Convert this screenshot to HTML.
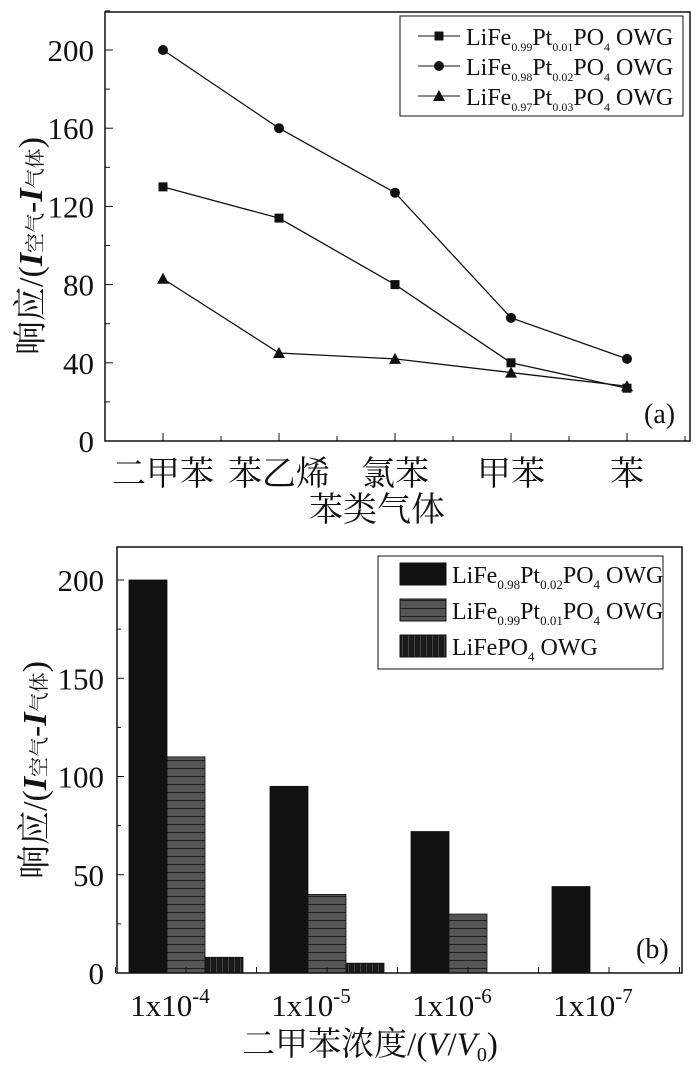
<!DOCTYPE html>
<html><head><meta charset="utf-8"><style>
body{margin:0;background:#fff}
svg{display:block}
text{font-family:"Liberation Serif","Noto Serif CJK SC",serif;fill:#111}
</style></head><body>
<svg id="s" width="700" height="1065" xmlns="http://www.w3.org/2000/svg"></svg>
<script>
const catsA=["二甲苯","苯乙烯","氯苯","甲苯","苯"];
const sA1=[130,114,80,40,27];
const sA2=[200,160,127,63,42];
const sA3=[83,45,42,35,28];
const ticksA=[0,40,80,120,160,200];
const catsB=["1x10","1x10","1x10","1x10"];
const expB=["-4","-5","-6","-7"];
const sB1=[200,95,72,44];
const sB2=[110,40,30,0];
const sB3=[8,5,0,0];
const ticksB=[0,50,100,150,200];
const NS="http://www.w3.org/2000/svg";
const svg=document.getElementById('s');
function el(t,a,p){const e=document.createElementNS(NS,t);for(const k in a)e.setAttribute(k,a[k]);(p||svg).appendChild(e);return e;}
// ---- chart a
const ga=el('g',{});


const xa=i=>163+i*116, ya=v=>441-v*1.955;
let r=el('rect',{x:105,y:12,width:585,height:429,fill:'none',stroke:'#111','stroke-width':1.5},ga);

for(let v=0;v<=220;v+=20){el('line',{x1:105,x2:v%40?110:113,y1:ya(v),y2:ya(v),stroke:'#111'},ga);}
ticksA.forEach(v=>{const t=el('text',{x:94,y:ya(v)+11,'text-anchor':'end','font-size':31},ga);t.textContent=v;
});
for(let i=0;i<=4.5;i+=0.5){el('line',{x1:xa(i),x2:xa(i),y1:441,y2:i%1?436:433,stroke:'#111'},ga);}
catsA.forEach((c,i)=>{const t=el('text',{x:xa(i),y:485,'text-anchor':'middle','font-size':34},ga);t.textContent=c;
});
let t=el('text',{x:377,y:521,'text-anchor':'middle','font-size':34},ga);t.textContent="苯类气体";

t=el('text',{x:0,y:0,transform:'translate(42,246) rotate(-90)','text-anchor':'middle','font-size':34},ga);
t.innerHTML='响应/(<tspan font-style="italic" font-weight="bold">I</tspan><tspan font-size="20">空气</tspan>-<tspan font-style="italic" font-weight="bold">I</tspan><tspan font-size="20">气体</tspan>)';

function marker(k,x,y,g){if(k==0)return el('rect',{x:x-4.5,y:y-4.5,width:9,height:9,fill:'#111'},g);
if(k==1)return el('circle',{cx:x,cy:y,r:5,fill:'#111'},g);
return el('polygon',{points:`${x},${y-6} ${x-6},${y+5} ${x+6},${y+5}`,fill:'#111'},g);}
[sA1,sA2,sA3].forEach((s,k)=>{
 const p=el('polyline',{points:s.map((v,i)=>xa(i)+','+ya(v)).join(' '),fill:'none',stroke:'#111','stroke-width':1.3},ga);
 
 s.forEach((v,i)=>{const m=marker(k,xa(i),ya(v),ga);});
});
const lg=el('g',{},ga);
el('rect',{x:400,y:16,width:283,height:100,fill:'#fff',stroke:'#111'},lg);
[["0.99","0.01"],["0.98","0.02"],["0.97","0.03"]].forEach((n,k)=>{const y=36+k*30;
 el('line',{x1:418,x2:460,y1:y,y2:y,stroke:'#111'},lg);marker(k,439,y,lg);
 const tt=el('text',{x:466,y:y+9,'font-size':24},lg);
 tt.innerHTML=`LiFe<tspan font-size="12" dy="6">${n[0]}</tspan><tspan dy="-6">Pt</tspan><tspan font-size="12" dy="6">${n[1]}</tspan><tspan dy="-6">PO</tspan><tspan font-size="12" dy="6">4</tspan><tspan dy="-6"> OWG</tspan>`;
 });
t=el('text',{x:644,y:423,'font-size':28},ga);t.textContent="(a)";

// ---- chart b
const gb=el('g',{});

const defs=el('defs',{});
const pt1=el('pattern',{id:'hz',width:6,height:8,patternUnits:'userSpaceOnUse'},defs);
el('rect',{width:6,height:8,fill:'#555'},pt1);el('line',{x1:0,x2:6,y1:0.5,y2:0.5,stroke:'#222','stroke-width':1},pt1);
const pt2=el('pattern',{id:'vt',width:6,height:8,patternUnits:'userSpaceOnUse'},defs);
el('rect',{width:6,height:8,fill:'#1a1a1a'},pt2);el('line',{x1:0.5,x2:0.5,y1:0,y2:8,stroke:'#444','stroke-width':1},pt2);
const gx=i=>186+i*141, yb=v=>973-v*1.965, bw=38;
for(let v=0;v<=210;v+=25){el('line',{x1:117,x2:v%50?121:124,y1:yb(v),y2:yb(v),stroke:'#111'},gb);}
ticksB.forEach(v=>{const t=el('text',{x:104,y:yb(v)+11,'text-anchor':'end','font-size':31},gb);t.textContent=v;
});
const fills=['#111','url(#hz)','url(#vt)'];
[sB1,sB2,sB3].forEach((s,k)=>s.forEach((v,i)=>{if(v<=0)return;
 const b=el('rect',{x:gx(i)+(k-1.5)*bw,y:yb(v),width:bw,height:yb(0)-yb(v),fill:fills[k],stroke:'#111','stroke-width':0.8},gb);
 }));
r=el('rect',{x:117,y:547,width:565,height:426,fill:'none',stroke:'#111','stroke-width':1.5},gb);

for(let i=0;i<4;i++){[-0.5,0,0.5].forEach(d=>el('line',{x1:gx(i)+d*141,x2:gx(i)+d*141,y1:973,y2:967,stroke:'#111'},gb));}
catsB.forEach((c,i)=>{const t=el('text',{x:gx(i)-16,y:1016,'text-anchor':'middle','font-size':31},gb);
 t.innerHTML=`${c}<tspan font-size="21" dy="-13">${expB[i]}</tspan>`;
 });
t=el('text',{x:370,y:1055,'text-anchor':'middle','font-size':33},gb);
t.innerHTML='二甲苯浓度/(<tspan font-style="italic">V</tspan>/<tspan font-style="italic">V</tspan><tspan font-size="20" dy="6">0</tspan><tspan dy="-6">)</tspan>';

t=el('text',{x:0,y:0,transform:'translate(46,770) rotate(-90)','text-anchor':'middle','font-size':34},gb);
t.innerHTML='响应/(<tspan font-style="italic" font-weight="bold">I</tspan><tspan font-size="20">空气</tspan>-<tspan font-style="italic" font-weight="bold">I</tspan><tspan font-size="20">气体</tspan>)';

const lb=el('g',{},gb);
el('rect',{x:378,y:556,width:285,height:113,fill:'#fff',stroke:'#111'},lb);
const ln=[['LiFe<tspan font-size="13" dy="6">0.98</tspan><tspan dy="-6">Pt</tspan><tspan font-size="13" dy="6">0.02</tspan><tspan dy="-6">PO</tspan><tspan font-size="13" dy="6">4</tspan><tspan dy="-6"> OWG</tspan>'],
['LiFe<tspan font-size="13" dy="6">0.99</tspan><tspan dy="-6">Pt</tspan><tspan font-size="13" dy="6">0.01</tspan><tspan dy="-6">PO</tspan><tspan font-size="13" dy="6">4</tspan><tspan dy="-6"> OWG</tspan>'],
['LiFePO<tspan font-size="13" dy="6">4</tspan><tspan dy="-6"> OWG</tspan>']];
ln.forEach((h,k)=>{const y=574+k*36;
 el('rect',{x:400,y:y-11,width:46,height:22,fill:fills[k],stroke:'#111'},lb);
 const tt=el('text',{x:452,y:y+9,'font-size':24},lb);tt.innerHTML=h[0];
 });
t=el('text',{x:636,y:958,'font-size':28},gb);t.textContent="(b)";

</script>
</body></html>
